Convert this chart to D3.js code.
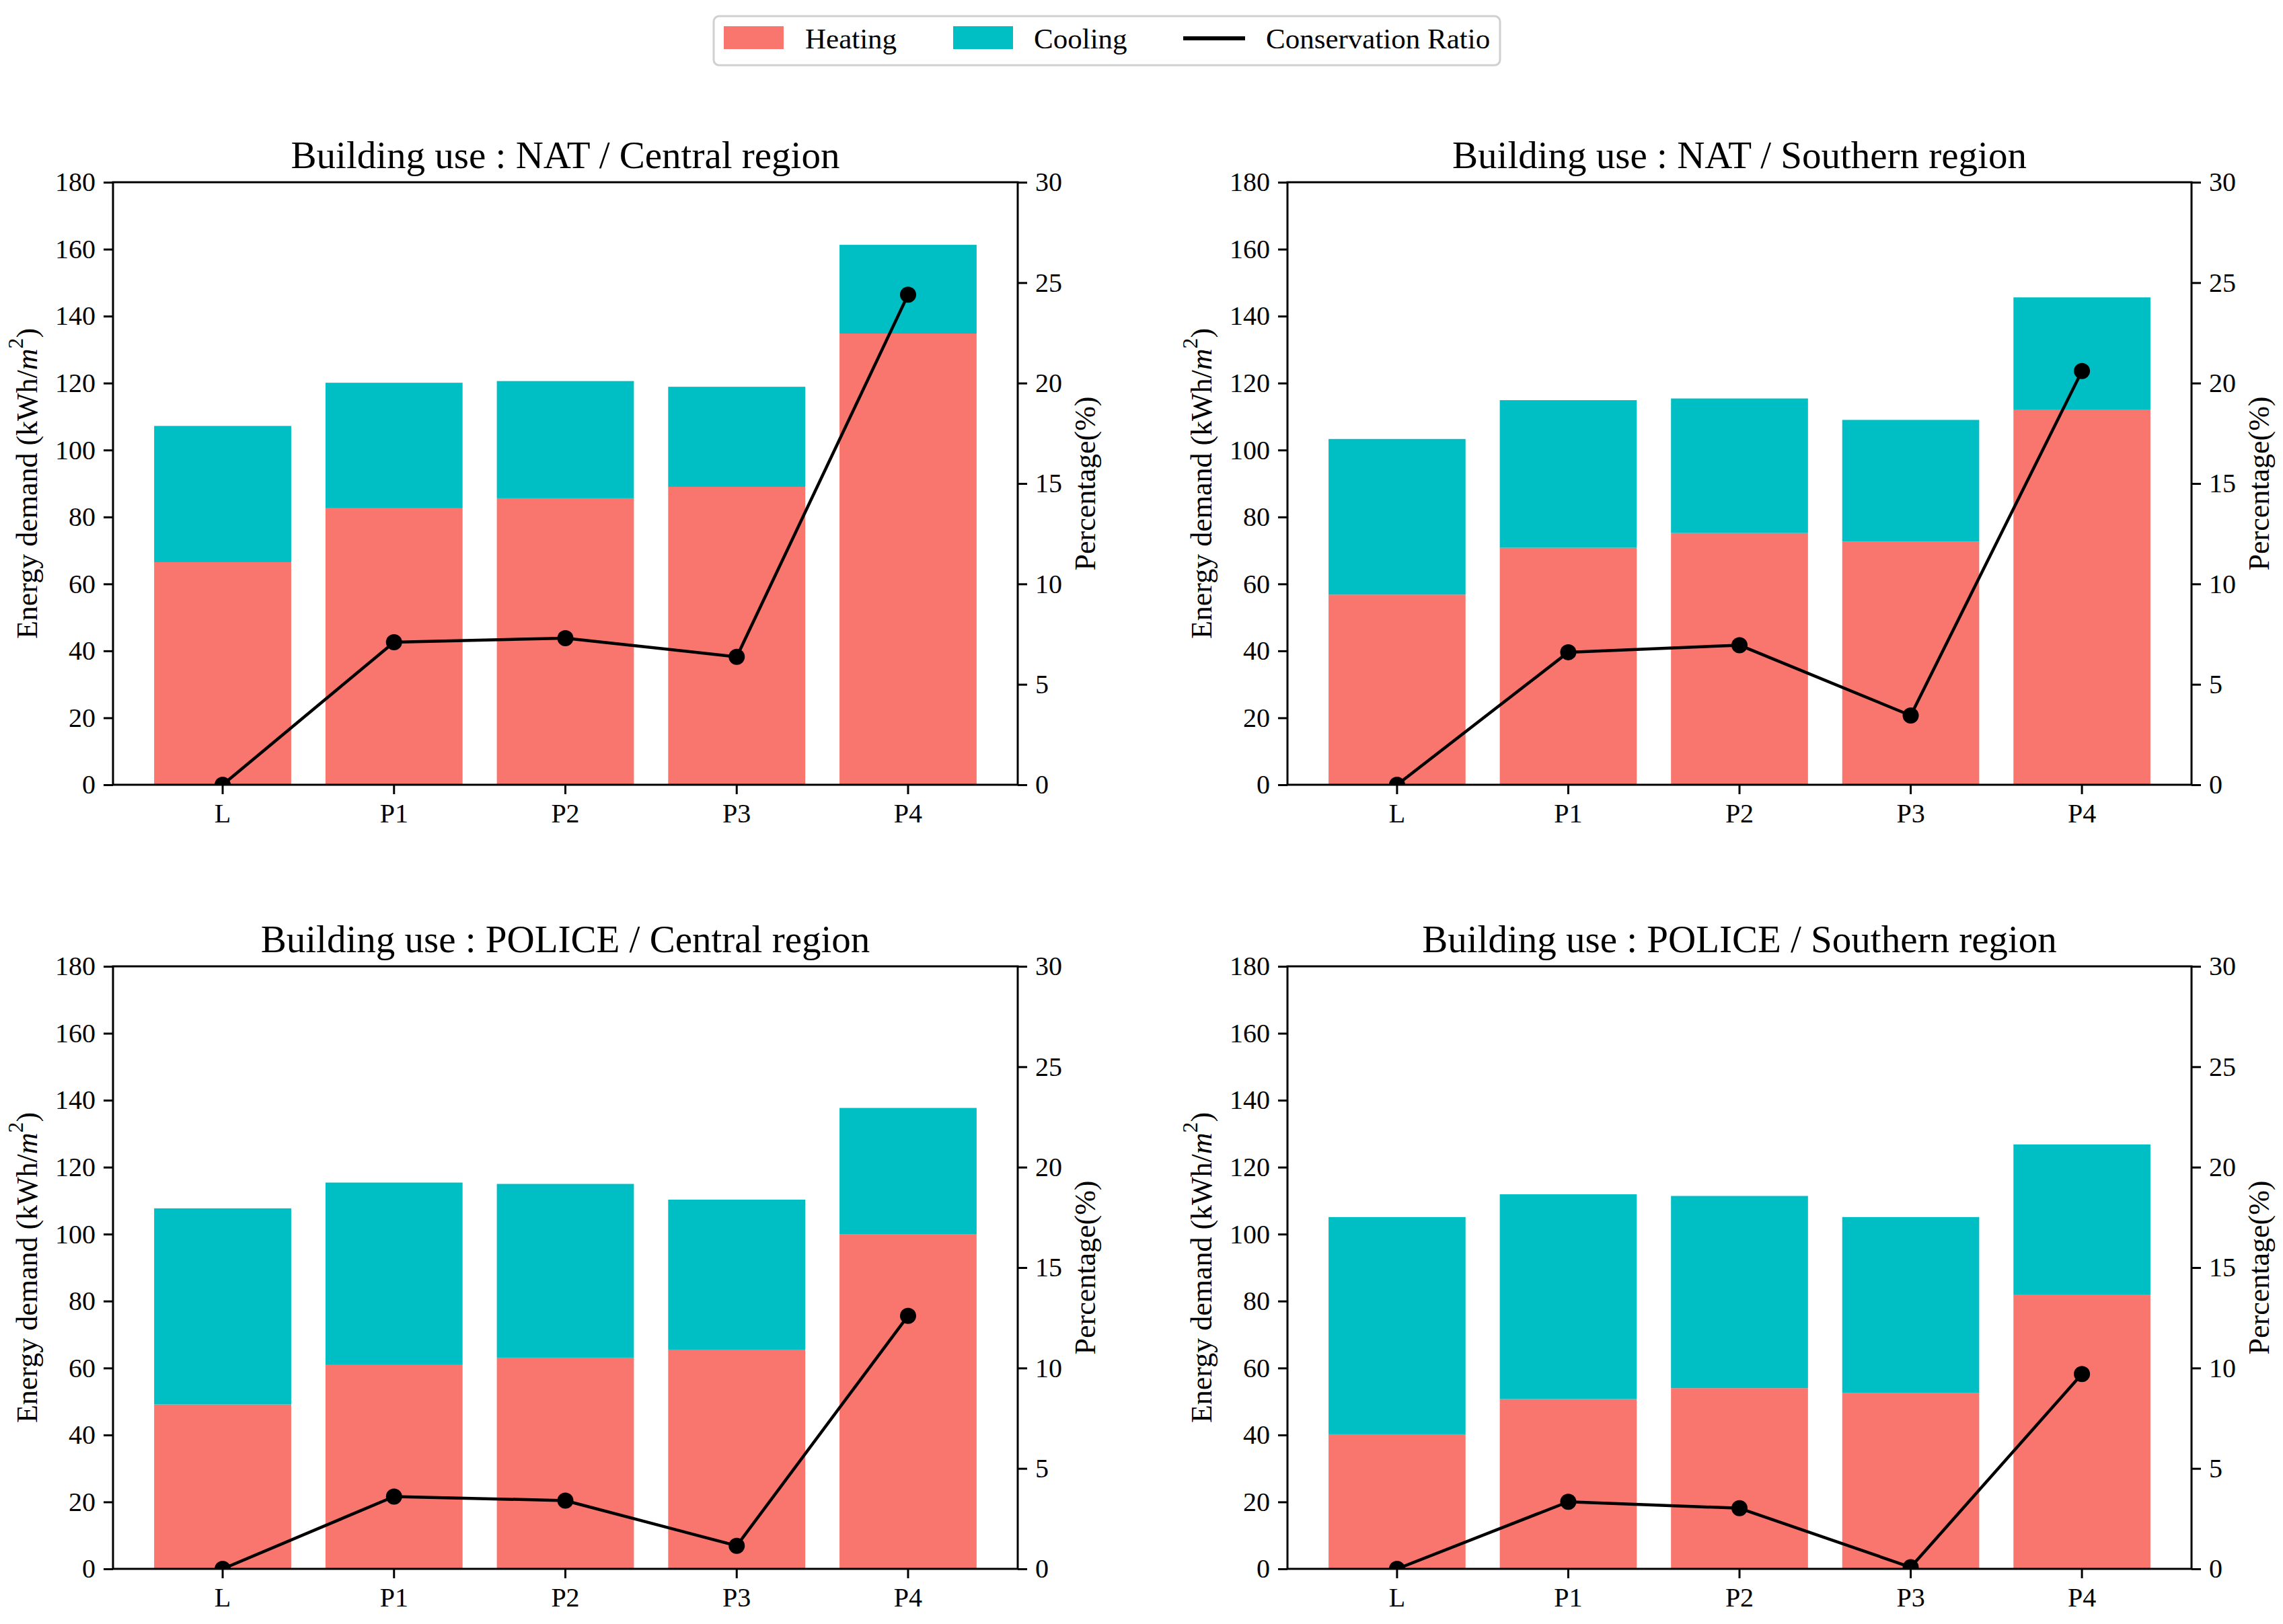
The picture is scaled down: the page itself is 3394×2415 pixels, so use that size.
<!DOCTYPE html>
<html>
<head>
<meta charset="utf-8">
<script src="https://cdn.jsdelivr.net/npm/d3@7"></script>
<style>
  html, body { margin: 0; padding: 0; background: #fff; }
  svg { display: block; }
  text { font-family: 'Liberation Serif', 'Times New Roman', Times, serif; }
</style>
</head>
<body>
<svg id="chart" width="3394" height="2415"></svg>
<script>
// ---------------- data ----------------
const categories = ["L", "P1", "P2", "P3", "P4"];
const titles = [
  "Building use : NAT / Central region",
  "Building use : NAT / Southern region",
  "Building use : POLICE / Central region",
  "Building use : POLICE / Southern region"
];
// Heating demand (kWh/m2)
const heatingNATCentral     = [66.5, 82.6, 85.6, 89.0, 134.8];
const heatingNATSouthern    = [56.8, 70.8, 75.2, 72.6, 112.1];
const heatingPOLICECentral  = [49.1, 60.9, 63.1, 65.5, 99.9];
const heatingPOLICESouthern = [40.2, 50.7, 54.0, 52.6, 81.8];
// Cooling demand (kWh/m2), stacked on heating
const coolingNATCentral     = [40.7, 37.5, 35.0, 29.9, 26.5];
const coolingNATSouthern    = [46.5, 44.1, 40.2, 36.4, 33.5];
const coolingPOLICECentral  = [58.6, 54.5, 51.9, 44.8, 37.8];
const coolingPOLICESouthern = [64.9, 61.2, 57.4, 52.5, 45.0];
// Conservation ratio (%)
const ratioNATCentral     = [0, 7.1, 7.3, 6.37, 24.4];
const ratioNATSouthern    = [0, 6.6, 6.95, 3.45, 20.6];
const ratioPOLICECentral  = [0, 3.6, 3.4, 1.15, 12.6];
const ratioPOLICESouthern = [0, 3.34, 3.02, 0.08, 9.7];

const leftTicks  = [0, 20, 40, 60, 80, 100, 120, 140, 160, 180];
const rightTicks = [0, 5, 10, 15, 20, 25, 30];
const legendLabels = ["Heating", "Cooling", "Conservation Ratio"];

const panelsData = [
  { title: titles[0], heating: heatingNATCentral,     cooling: coolingNATCentral,     ratio: ratioNATCentral },
  { title: titles[1], heating: heatingNATSouthern,    cooling: coolingNATSouthern,    ratio: ratioNATSouthern },
  { title: titles[2], heating: heatingPOLICECentral,  cooling: coolingPOLICECentral,  ratio: ratioPOLICECentral },
  { title: titles[3], heating: heatingPOLICESouthern, cooling: coolingPOLICESouthern, ratio: ratioPOLICESouthern }
];

// ---------------- style / layout ----------------
const COLORS = { heating: "#F8766D", cooling: "#00BFC4", line: "#000" };
const FONT = "'Liberation Serif', 'Times New Roman', Times, serif";
const TICK_FS = 40, LABEL_FS = 44, TITLE_FS = 57, LEGEND_FS = 43;
const colX = [[168, 1513], [1914, 3258]];
const rowY = [[271, 1167], [1437, 2333]];

const svg = d3.select("#chart");
svg.append("rect").attr("width", 3394).attr("height", 2415).attr("fill", "#fff");

panelsData.forEach((pd, i) => {
  const [x0, x1] = colX[i % 2];
  const [y0, y1] = rowY[Math.floor(i / 2)];
  const g = svg.append("g");

  const x = d3.scaleBand().domain(categories).range([x0, x1])
    .paddingInner(0.2).paddingOuter(0.24);
  const y = d3.scaleLinear().domain([0, 180]).range([y1, y0]);
  const y2 = d3.scaleLinear().domain([0, 30]).range([y1, y0]);

  const clipId = "clip" + i;
  g.append("clipPath").attr("id", clipId)
    .append("rect").attr("x", x0).attr("y", y0).attr("width", x1 - x0).attr("height", y1 - y0);

  // bars
  const rows = categories.map((c, k) => ({ c, h: pd.heating[k], cl: pd.cooling[k] }));
  g.selectAll(".heat").data(rows).enter().append("rect")
    .attr("x", d => x(d.c)).attr("width", x.bandwidth())
    .attr("y", d => y(d.h)).attr("height", d => y(0) - y(d.h))
    .attr("fill", COLORS.heating);
  g.selectAll(".cool").data(rows).enter().append("rect")
    .attr("x", d => x(d.c)).attr("width", x.bandwidth())
    .attr("y", d => y(d.h + d.cl)).attr("height", d => y(d.h) - y(d.h + d.cl))
    .attr("fill", COLORS.cooling);

  // ratio line
  const pts = categories.map((c, k) => [x(c) + x.bandwidth() / 2, y2(pd.ratio[k])]);
  const lg = g.append("g").attr("clip-path", `url(#${clipId})`);
  lg.append("path").attr("d", d3.line()(pts))
    .attr("fill", "none").attr("stroke", COLORS.line).attr("stroke-width", 4.5)
    .attr("stroke-linejoin", "round");
  lg.selectAll("circle").data(pts).enter().append("circle")
    .attr("cx", d => d[0]).attr("cy", d => d[1]).attr("r", 12).attr("fill", COLORS.line);

  // axes
  const styleAxis = sel => {
    sel.attr("font-family", FONT).attr("font-size", TICK_FS);
    sel.selectAll("path.domain").remove();
    sel.selectAll(".tick line").attr("stroke", "#000").attr("stroke-width", 3);
    sel.selectAll(".tick text").attr("fill", "#000").style("font-family", FONT);
  };
  g.append("g").attr("transform", `translate(${x0},0)`)
    .call(d3.axisLeft(y).tickValues(leftTicks).tickSize(14).tickPadding(12).tickFormat(d3.format("d")))
    .call(styleAxis);
  g.append("g").attr("transform", `translate(${x1},0)`)
    .call(d3.axisRight(y2).tickValues(rightTicks).tickSize(14).tickPadding(12).tickFormat(d3.format("d")))
    .call(styleAxis);
  g.append("g").attr("transform", `translate(0,${y1})`)
    .call(d3.axisBottom(x).tickSize(14).tickPadding(14))
    .call(styleAxis);

  // spines
  g.append("rect").attr("x", x0).attr("y", y0).attr("width", x1 - x0).attr("height", y1 - y0)
    .attr("fill", "none").attr("stroke", "#000").attr("stroke-width", 3);

  // title
  g.append("text").attr("x", (x0 + x1) / 2).attr("y", y0 - 21)
    .attr("text-anchor", "middle").attr("font-family", FONT).attr("font-size", TITLE_FS)
    .attr("fill", "#000").text(pd.title);

  // left y label
  const cy = (y0 + y1) / 2;
  const yl = g.append("text")
    .attr("transform", `translate(${x0 - 128},${cy}) rotate(-90)`)
    .attr("text-anchor", "middle").attr("dominant-baseline", "central")
    .attr("font-family", FONT).attr("font-size", LABEL_FS).attr("fill", "#000");
  yl.append("tspan").text("Energy demand (kWh/");
  yl.append("tspan").attr("font-style", "italic").text("m");
  yl.append("tspan").attr("font-size", LABEL_FS * 0.72).attr("dy", -17).text("2");
  yl.append("tspan").attr("dy", 17).text(")");

  // right y label
  g.append("text")
    .attr("transform", `translate(${x1 + 100},${cy}) rotate(-90)`)
    .attr("text-anchor", "middle").attr("dominant-baseline", "central")
    .attr("font-family", FONT).attr("font-size", LABEL_FS).attr("fill", "#000")
    .text("Percentage(%)");
});

// ---------------- legend ----------------
const leg = svg.append("g");
leg.append("rect").attr("x", 1061).attr("y", 24).attr("width", 1169).attr("height", 73)
  .attr("rx", 8).attr("fill", "#fff").attr("stroke", "#d0d0d0").attr("stroke-width", 3);
const legItems = [
  { label: legendLabels[0], type: "patch", color: COLORS.heating, hx: 1076, tx: 1197 },
  { label: legendLabels[1], type: "patch", color: COLORS.cooling, hx: 1417, tx: 1537 },
  { label: legendLabels[2], type: "line",  color: COLORS.line,    hx: 1759, tx: 1882 }
];
legItems.forEach(it => {
  if (it.type === "patch") {
    leg.append("rect").attr("x", it.hx).attr("y", 39).attr("width", 89).attr("height", 34)
      .attr("fill", it.color);
  } else {
    leg.append("line").attr("x1", it.hx).attr("x2", it.hx + 92).attr("y1", 57).attr("y2", 57)
      .attr("stroke", it.color).attr("stroke-width", 6);
  }
  leg.append("text").attr("x", it.tx).attr("y", 72)
    .attr("font-family", FONT).attr("font-size", LEGEND_FS).attr("fill", "#000").text(it.label);
});
</script>
</body>
</html>
